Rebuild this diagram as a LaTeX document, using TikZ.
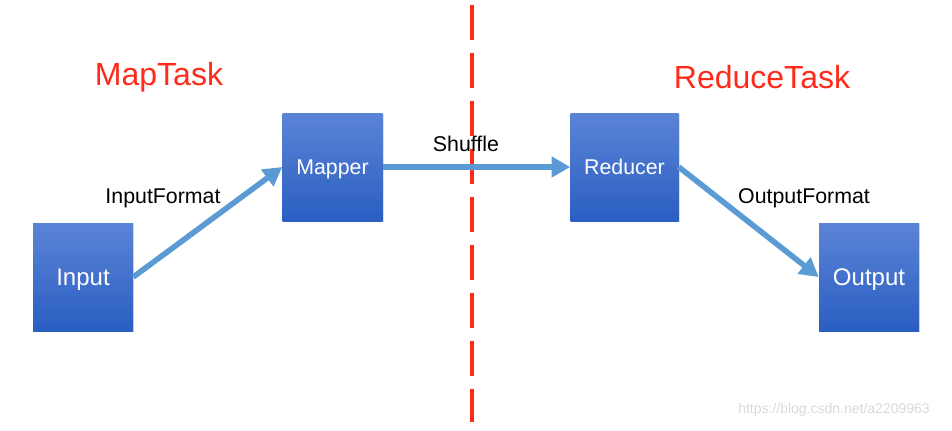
\documentclass[tikz,border=0pt]{standalone}
\usepackage{fontspec}
\setmainfont{Liberation Sans}
\usepackage{tikz}
\usetikzlibrary{positioning, arrows.meta, shadows}
\definecolor{boxtop}{HTML}{5B84D6}
\definecolor{boxbot}{HTML}{2A5EC2}
\definecolor{flow}{HTML}{5B9BD5}
\definecolor{taskred}{HTML}{FF2A1A}
\tikzset{
  task/.style={rectangle, minimum width=75pt, minimum height=81pt, inner sep=0pt,
    top color=boxtop, bottom color=boxbot, text=white, text depth=0pt,
    drop shadow={opacity=0.25, shadow xshift=1pt, shadow yshift=-1pt}},
  flowarrow/.style={flow, line width=4.2pt, -{Triangle[length=14pt,width=15pt]}},
  steplabel/.style={font=\fontsize{16}{18}\selectfont}
}

\begin{document}
\begin{tikzpicture}[x=0.75pt, y=-0.75pt]
  \useasboundingbox (0,0) rectangle (952,430);
  % phase titles
  \node[taskred, font=\fontsize{24}{28}\selectfont] (maptitle) at (159,77) {MapTask};
  \node[taskred, font=\fontsize{24}{28}\selectfont] (reducetitle) at (762,77) {ReduceTask};
  % boundary between map and reduce
  \draw[taskred, line width=3pt, dash pattern=on 26pt off 10pt] (472,5) -- (472,422);
  % tasks
  \node[task, font=\fontsize{18}{20}\selectfont] (input) at (83,277) {Input};
  \node[task, font=\fontsize{16}{18}\selectfont] (mapper) at (332.5,167) {Mapper};
  \node[task, minimum width=81pt, font=\fontsize{16}{18}\selectfont] (reducer) at (624.5,167) {Reducer};
  \node[task, font=\fontsize{18}{20}\selectfont] (output) at (869,277) {Output};
  % flow
  \draw[flowarrow] (input.east) -- (mapper.west);
  \draw[flowarrow] (mapper.east) -- (reducer.west);
  \draw[flowarrow] (reducer.east) -- (output.west);
  \node[steplabel] (inlabel) at (163,198) {InputFormat};
  \node[steplabel] (shufflelabel) at (466,144) {Shuffle};
  \node[steplabel] (outlabel) at (804,198) {OutputFormat};
  \node[black!15, font=\fontsize{10.5}{12}\selectfont] (mark) at (834,410) {https://blog.csdn.net/a2209963};
\end{tikzpicture}
\end{document}
